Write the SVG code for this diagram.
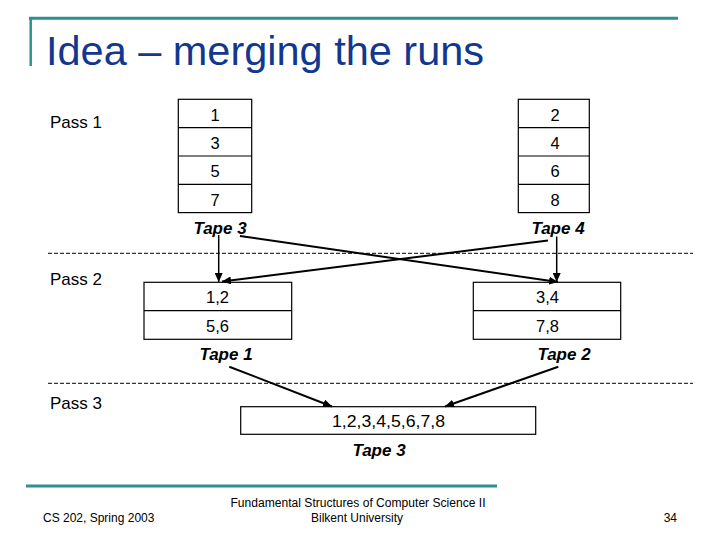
<svg xmlns="http://www.w3.org/2000/svg" width="720" height="540" viewBox="0 0 720 540">
<style>
.t{font-family:"Liberation Sans",Arial,sans-serif;fill:#000}
.cell{font-size:16.5px;text-anchor:middle}
.pass{font-size:17px}
.tape{font-size:17px;font-weight:bold;font-style:italic;text-anchor:middle}
.foot{font-size:12px}
.box{fill:#fff;stroke:#000;stroke-width:1.2}
.dash{stroke:#000;stroke-width:1;stroke-dasharray:4,2;fill:none}
.arr{stroke:#000;stroke-width:2;fill:none;marker-end:url(#ah)}
.arrv{stroke:#000;stroke-width:1.5;fill:none;marker-end:url(#ah)}
</style>
<defs>
<marker id="ah" markerUnits="userSpaceOnUse" markerWidth="10" markerHeight="8" refX="9" refY="4" orient="auto">
<path d="M0,0 L9,4 L0,8 Z" fill="#000"/>
</marker>
</defs>
<rect width="720" height="540" fill="#fff"/>
<g id="header">
<line x1="29" y1="18.3" x2="678" y2="18.3" stroke="#2e9191" stroke-width="3"/>
<line x1="30.7" y1="17" x2="30.7" y2="66" stroke="#2e9191" stroke-width="2.5"/>
<text x="46" y="65" font-family="Liberation Sans,Arial,sans-serif" font-size="40" fill="#12388e" textLength="438" lengthAdjust="spacingAndGlyphs">Idea – merging the runs</text>
</g>
<g id="pass-labels">
<text class="t pass" x="50" y="128">Pass 1</text>
<text class="t pass" x="50" y="285">Pass 2</text>
<text class="t pass" x="50" y="409">Pass 3</text>
</g>
<g id="separators">
<line class="dash" x1="48" y1="253.3" x2="693" y2="253.3"/>
<line class="dash" x1="48" y1="383.3" x2="693" y2="383.3"/>
</g>
<g id="tape3-pass1">
<rect class="box" x="178.3" y="99.3" width="73.4" height="113.3"/>
<line x1="178.3" y1="127.6" x2="251.7" y2="127.6" stroke="#000" stroke-width="1.2"/>
<line x1="178.3" y1="156" x2="251.7" y2="156" stroke="#000" stroke-width="1.2"/>
<line x1="178.3" y1="184.3" x2="251.7" y2="184.3" stroke="#000" stroke-width="1.2"/>
<text class="t cell" x="215" y="120.7">1</text>
<text class="t cell" x="215" y="149">3</text>
<text class="t cell" x="215" y="177.3">5</text>
<text class="t cell" x="215" y="205.6">7</text>
<text class="t tape" x="220" y="233.5">Tape 3</text>
</g>
<g id="tape4-pass1">
<rect class="box" x="518.3" y="99.3" width="71" height="113.3"/>
<line x1="518.3" y1="127.6" x2="589.3" y2="127.6" stroke="#000" stroke-width="1.2"/>
<line x1="518.3" y1="156" x2="589.3" y2="156" stroke="#000" stroke-width="1.2"/>
<line x1="518.3" y1="184.3" x2="589.3" y2="184.3" stroke="#000" stroke-width="1.2"/>
<text class="t cell" x="555" y="120.7">2</text>
<text class="t cell" x="555" y="149">4</text>
<text class="t cell" x="555" y="177.3">6</text>
<text class="t cell" x="555" y="205.6">8</text>
<text class="t tape" x="558" y="233.5">Tape 4</text>
</g>
<g id="tape1-pass2">
<rect class="box" x="144" y="282.3" width="147.7" height="57"/>
<line x1="144" y1="310.7" x2="291.7" y2="310.7" stroke="#000" stroke-width="1.2"/>
<text class="t cell" x="217.5" y="302.5">1,2</text>
<text class="t cell" x="217.5" y="331.5">5,6</text>
<text class="t tape" x="226" y="360">Tape 1</text>
</g>
<g id="tape2-pass2">
<rect class="box" x="473.3" y="282.3" width="147.4" height="57"/>
<line x1="473.3" y1="310.7" x2="620.7" y2="310.7" stroke="#000" stroke-width="1.2"/>
<text class="t cell" x="547.5" y="302.5">3,4</text>
<text class="t cell" x="547.5" y="331.5">7,8</text>
<text class="t tape" x="564" y="360">Tape 2</text>
</g>
<g id="tape3-pass3">
<rect class="box" x="240.7" y="406.7" width="295" height="27.6"/>
<text class="t cell" x="388.5" y="426.7" textLength="113" lengthAdjust="spacingAndGlyphs">1,2,3,4,5,6,7,8</text>
<text class="t tape" x="379" y="455.5">Tape 3</text>
</g>
<g id="connectors">
<line class="arrv" x1="218.7" y1="235" x2="218.7" y2="282"/>
<line class="arrv" x1="556.7" y1="236.5" x2="556.7" y2="282"/>
<line class="arr" x1="240" y1="236" x2="558" y2="282"/>
<line class="arr" x1="548" y1="240.5" x2="222" y2="281.5"/>
<line class="arr" x1="229.3" y1="366.7" x2="332" y2="406.5"/>
<line class="arr" x1="558.3" y1="366.7" x2="445" y2="406.5"/>
</g>
<g id="footer">
<line x1="26" y1="486" x2="497" y2="486" stroke="#2e9191" stroke-width="3"/>
<text class="t foot" x="43" y="521.5">CS 202, Spring 2003</text>
<text class="t foot" x="358" y="506.5" text-anchor="middle" textLength="255" lengthAdjust="spacingAndGlyphs">Fundamental Structures of Computer Science II</text>
<text class="t foot" x="357" y="521.5" text-anchor="middle">Bilkent University</text>
<text class="t foot" x="677" y="521.5" text-anchor="end">34</text>
</g>
</svg>
